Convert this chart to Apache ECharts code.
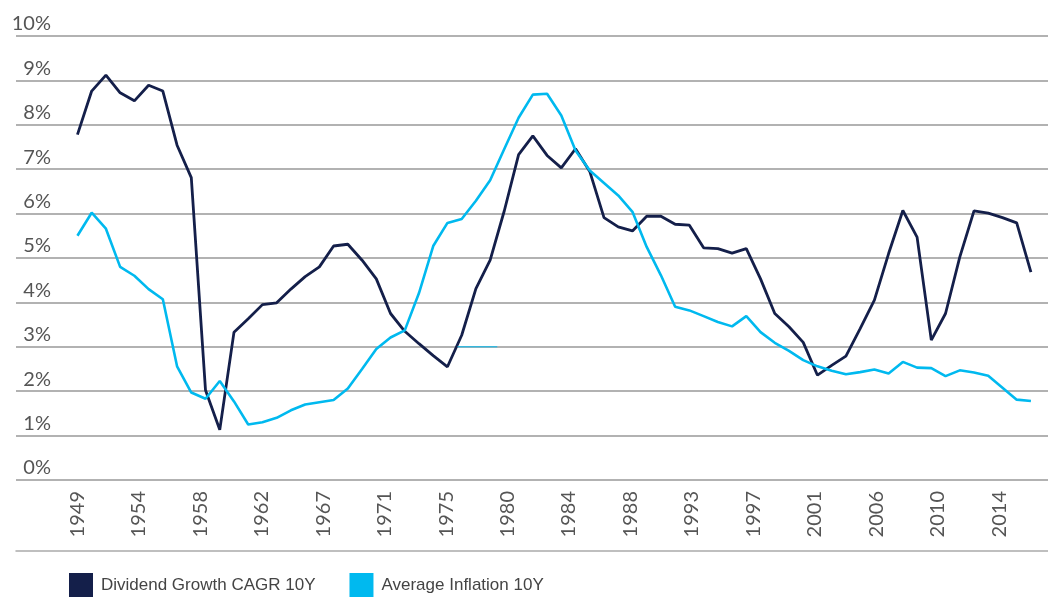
<!DOCTYPE html>
<html>
<head>
<meta charset="utf-8">
<script src="https://cdn.jsdelivr.net/npm/echarts@6/dist/echarts.min.js"></script>
<style>
    html, body { margin: 0; padding: 0; background: #fff; }
    #chart { width: 1048px; height: 616px; }
</style>
</head>
<body>
<div id="chart"></div>
<script>
// yearly observations 1949 - 2016
var years = [];
for (var y = 1949; y <= 2016; y++) years.push(y);

var dividendGrowth = [
    7.78, 8.76, 9.12, 8.72, 8.54, 8.89, 8.76, 7.54, 6.81, 2.02,
    1.13, 3.33, 3.63, 3.95, 3.99, 4.30, 4.58, 4.80, 5.27, 5.31,
    4.95, 4.53, 3.75, 3.35, 3.07, 2.80, 2.55, 3.26, 4.31, 4.95,
    6.07, 7.33, 7.75, 7.31, 7.03, 7.46, 6.95, 5.91, 5.70, 5.61,
    5.94, 5.94, 5.76, 5.74, 5.23, 5.21, 5.11, 5.21, 4.53, 3.75,
    3.45, 3.10, 2.36, 2.58, 2.79, 3.41, 4.05, 5.10, 6.07, 5.47,
    3.15, 3.75, 5.02, 6.06, 6.01, 5.91, 5.79, 4.68
];

var avgInflation = [
    5.50, 6.02, 5.66, 4.80, 4.60, 4.30, 4.07, 2.56, 1.97, 1.83,
    2.23, 1.77, 1.25, 1.30, 1.40, 1.57, 1.70, 1.75, 1.80, 2.06,
    2.50, 2.95, 3.21, 3.37, 4.21, 5.27, 5.79, 5.88, 6.29, 6.75,
    7.46, 8.16, 8.68, 8.70, 8.21, 7.42, 6.97, 6.69, 6.41, 6.04,
    5.25, 4.61, 3.90, 3.82, 3.69, 3.56, 3.46, 3.69, 3.33, 3.09,
    2.91, 2.70, 2.56, 2.46, 2.38, 2.43, 2.49, 2.40, 2.66, 2.53,
    2.52, 2.34, 2.47, 2.42, 2.35, 2.08, 1.81, 1.78
];

// short flat stub at 3% seen in the source (x in observation index units)
var stubX = [26.7, 29.5];
var stubValue = 3;

var xTickLabels = ['1949', '1954', '1958', '1962', '1967', '1971', '1975', '1980',
    '1984', '1988', '1993', '1997', '2001', '2006', '2010', '2014'];
var labelStep = 4.318;

var navy = '#141f4a';
var cyan = '#00b9ef';

var myChart = echarts.init(document.getElementById('chart'));

function toPairs(arr) {
    return arr.map(function (v, i) { return [i, v]; });
}

var option = {
    animation: false,
    backgroundColor: '#fff',
    grid: {
        left: 16,
        right: 0,
        top: 36,
        bottom: 136
    },
    legend: {
        left: 69,
        top: 573,
        padding: 0,
        icon: 'rect',
        itemWidth: 24,
        itemHeight: 24,
        itemGap: 34,
        textStyle: {
            fontFamily: "'Liberation Sans Narrow', 'Liberation Sans', sans-serif",
            fontSize: 17,
            color: '#444',
            padding: [0, 0, 0, 3]
        },
        data: ['Dividend Growth CAGR 10Y', 'Average Inflation 10Y']
    },
    xAxis: [
        {
            type: 'value',
            min: -labelStep,
            max: 68.2,
            interval: labelStep,
            axisLine: { show: false },
            axisTick: { show: false },
            splitLine: { show: false },
            axisLabel: {
                rotate: 90,
                margin: 11,
                fontFamily: 'Lato, sans-serif',
                fontSize: 20,
                color: '#555',
                showMinLabel: true,
                showMaxLabel: true,
                formatter: function (v) {
                    var k = Math.round(v / labelStep);
                    if (k < 0 || k >= xTickLabels.length) return '';
                    if (Math.abs(v - k * labelStep) > 0.01) return '';
                    return xTickLabels[k];
                }
            }
        },
        {
            type: 'value',
            min: -labelStep,
            max: 68.2,
            position: 'bottom',
            offset: 71,
            axisLine: { show: true, lineStyle: { color: '#aaa', width: 1.5 } },
            axisTick: { show: false },
            axisLabel: { show: false },
            splitLine: { show: false }
        }
    ],
    yAxis: {
        type: 'value',
        min: 0,
        max: 10,
        interval: 1,
        axisLine: { show: false },
        axisTick: { show: false },
        splitLine: {
            lineStyle: { color: '#999', width: 1.5 }
        },
        axisLabel: {
            inside: true,
            margin: 35,
            align: 'right',
            verticalAlign: 'bottom',
            padding: [0, 0, 2, 0],
            fontFamily: 'Lato, sans-serif',
            fontSize: 20,
            color: '#555',
            formatter: '{value}%'
        }
    },
    series: [
        {
            name: 'Dividend Growth CAGR 10Y',
            type: 'line',
            showSymbol: false,
            color: navy,
            lineStyle: { width: 2.8, color: navy },
            data: toPairs(dividendGrowth)
        },
        {
            name: 'Average Inflation 10Y',
            type: 'line',
            showSymbol: false,
            color: cyan,
            lineStyle: { width: 2.6, color: cyan },
            data: toPairs(avgInflation)
        },
        {
            name: 'stub',
            type: 'line',
            showSymbol: false,
            color: cyan,
            lineStyle: { width: 1, color: cyan },
            data: stubX.map(function (x) { return [x, stubValue]; })
        }
    ]
};
myChart.setOption(option);
</script>
</body>
</html>
